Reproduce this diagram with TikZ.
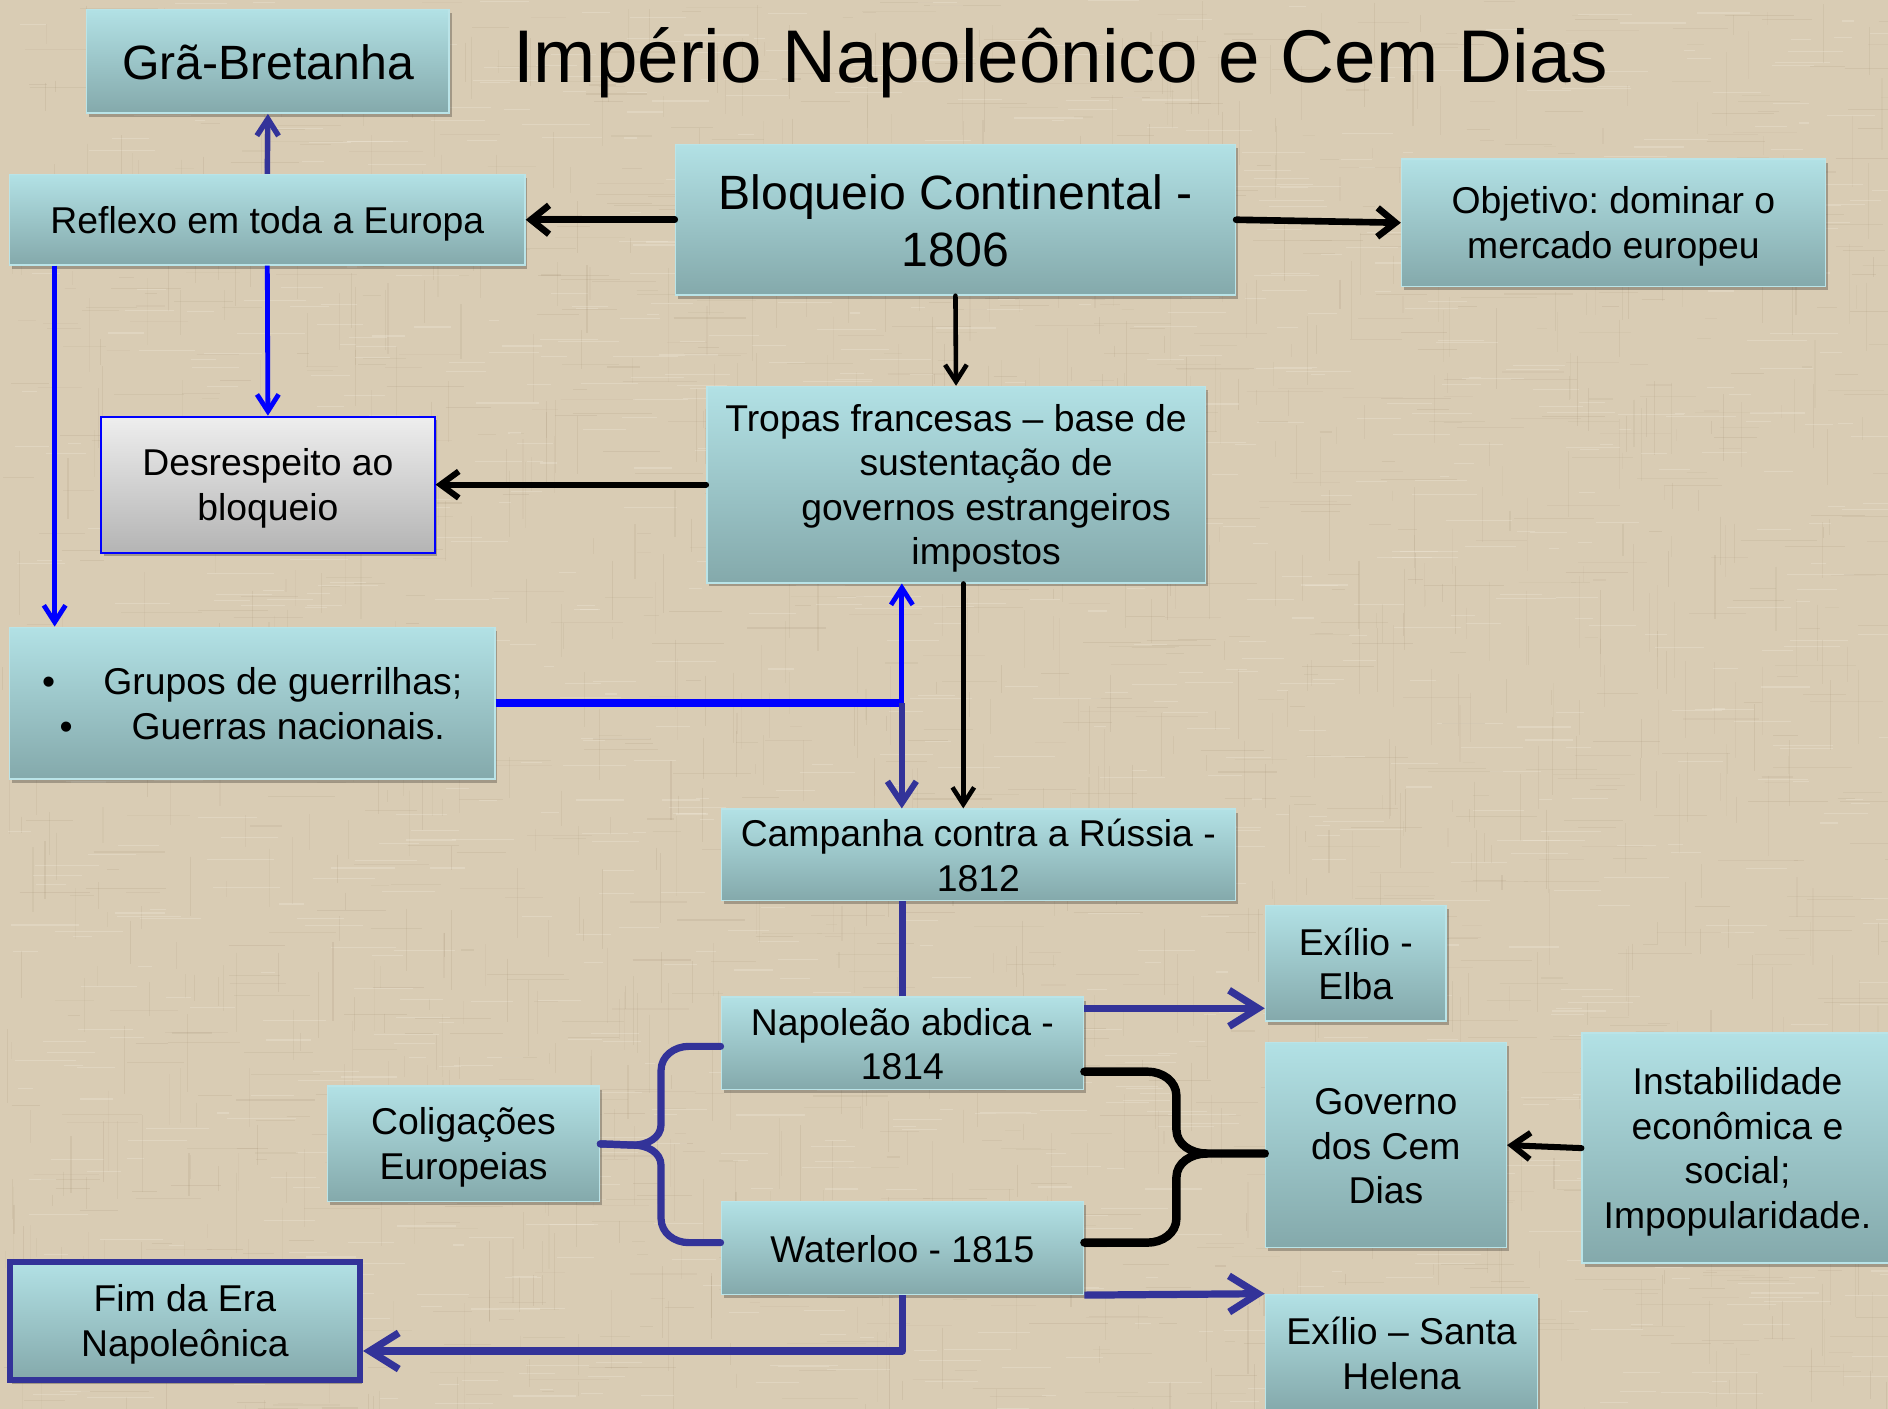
\documentclass[tikz,border=0pt]{standalone}
\usepackage{fontspec}
\setmainfont{Liberation Sans}
\usetikzlibrary{arrows.meta,calc,shadows}
\definecolor{bg}{RGB}{217,204,180}
\definecolor{bgdark}{RGB}{150,130,100}
\definecolor{bglight}{RGB}{242,235,220}
\definecolor{boxtop}{RGB}{178,225,229}
\definecolor{boxbot}{RGB}{132,169,171}
\definecolor{boxline}{RGB}{186,228,232}
\definecolor{dblue}{RGB}{51,51,153}
\definecolor{bblue}{RGB}{0,0,255}
\definecolor{graytop}{RGB}{238,238,238}
\definecolor{graybot}{RGB}{180,180,180}
\newcommand\bs{\rule[-0.17em]{0pt}{1.09em}}
\frenchspacing
\begin{document}
\begin{tikzpicture}[x=1pt,y=-1pt,
  box/.style={rectangle, inner sep=0pt, top color=boxtop, bottom color=boxbot,
    draw=boxline, line width=1.2pt, align=center,
    font=\fontsize{31}{37}\selectfont,
    drop shadow={shadow xshift=2pt,shadow yshift=-3pt,opacity=0.25,fill=black}},
  bigbox/.style={box, font=\fontsize{40}{47}\selectfont},
  graybox/.style={box, top color=graytop, bottom color=graybot, draw=bblue, line width=1.5pt},
  fimbox/.style={box, draw=dblue, line width=5pt},
  blk/.style={draw=black, line width=5.5pt, line cap=round, line join=round,
    -{Straight Barb[length=15pt,width=24pt]}},
  blkmid/.style={draw=black, line width=5pt, line cap=round, line join=round,
    -{Straight Barb[length=15pt,width=22pt]}},
  blkthin/.style={draw=black, line width=3.8pt, line cap=round, line join=round,
    -{Straight Barb[length=14pt,width=18pt]}},
  dbl/.style={draw=dblue, line width=6pt, line join=round,
    -{Straight Barb[length=24pt,width=30pt]}},
  dblthin/.style={draw=dblue, line width=4.5pt, line join=round,
    -{Straight Barb[length=14pt,width=18pt]}},
  dblmid/.style={draw=dblue, line width=5pt, line join=round,
    -{Straight Barb[length=18pt,width=24pt]}},
  bbl/.style={draw=bblue, line width=4pt, line join=round,
    -{Straight Barb[length=14pt,width=18pt]}},
  dline/.style={draw=dblue, line width=6pt},
  bthick/.style={draw=bblue, line width=7pt},
  bbrace/.style={draw=dblue, line width=6pt, line cap=round, line join=round},
  kbrace/.style={draw=black, line width=7pt, line cap=round, line join=round}
]
\useasboundingbox (0,0) rectangle (1568,1170);
\fill[bg] (0,0) rectangle (1568,1170);
% linen texture
\pgfmathsetseed{12}
\foreach \i in {1,...,1100}{
  \pgfmathsetmacro\xx{rnd*1568}\pgfmathsetmacro\yy{rnd*1170}
  \pgfmathsetmacro\ll{8+rnd*60}\pgfmathsetmacro\oo{0.05+0.10*rnd}
  \draw[bgdark, opacity=\oo, line width=0.9pt] (\xx,\yy) -- ++(\ll,0);
  \pgfmathsetmacro\xx{rnd*1568}\pgfmathsetmacro\yy{rnd*1170}
  \pgfmathsetmacro\ll{8+rnd*60}\pgfmathsetmacro\oo{0.05+0.10*rnd}
  \draw[bgdark, opacity=\oo, line width=0.9pt] (\xx,\yy) -- ++(0,\ll);
  \pgfmathsetmacro\xx{rnd*1568}\pgfmathsetmacro\yy{rnd*1170}
  \pgfmathsetmacro\ll{8+rnd*50}
  \draw[bglight, opacity=0.3, line width=0.9pt] (\xx,\yy) -- ++(\ll,0);
}

% title
\node[font=\fontsize{62}{70}\selectfont, inner sep=0pt] (tit) at (881,52) {Império Napoleônico e Cem Dias};

% boxes
\node[bigbox, minimum width=301pt, minimum height=86pt] (gra) at (222.5,51) {\bs Grã-Bretanha\bs};
\node[box, minimum width=428pt, minimum height=75pt] (ref) at (222,182.5) {\bs Reflexo em toda a Europa\bs};
\node[bigbox, minimum width=465pt, minimum height=125pt] (blo) at (793.5,182.5) {\bs Bloqueio Continental -\\1806\bs};
\node[box, minimum width=352pt, minimum height=106pt] (obj) at (1340,185) {\bs Objetivo: dominar o\\mercado europeu\bs};
\node[box, minimum width=414pt, minimum height=163pt] (tro) at (794,402.5)
  {\bs Tropas francesas – base de\\\hspace*{50pt}sustentação de\\\hspace*{50pt}governos estrangeiros\\\hspace*{50pt}impostos\bs};
\node[graybox, minimum width=277pt, minimum height=113pt] (des) at (222.5,402.5) {\bs Desrespeito ao\\bloqueio\bs};
\node[box, minimum width=403pt, minimum height=126pt] (grp) at (209.5,584)
  {\bs •\hspace{40pt}Grupos de guerrilhas;\\•\hspace{49pt}Guerras nacionais.\bs};
\node[box, minimum width=427pt, minimum height=76pt] (cam) at (812.5,710) {\bs Campanha contra a Rússia -\\1812\bs};
\node[box, minimum width=150pt, minimum height=96pt] (elb) at (1126,800) {\bs Exílio -\\Elba\bs};
\node[box, minimum width=301pt, minimum height=77pt] (nap) at (749.5,866.5) {\bs Napoleão abdica -\\1814\bs};
\node[box, minimum width=226pt, minimum height=96pt] (col) at (385,950) {\bs Coligações\\Europeias\bs};
\node[box, minimum width=200pt, minimum height=170pt] (gov) at (1151,951) {\bs Governo\\dos Cem\\Dias\bs};
\node[box, minimum width=258pt, minimum height=191pt] (ins) at (1443,953.5) {\bs Instabilidade\\econômica e\\social;\\Impopularidade.\bs};
\node[box, minimum width=301pt, minimum height=77pt] (wat) at (749.5,1036.5) {\bs Waterloo - 1815\bs};
\node[fimbox, minimum width=291pt, minimum height=98pt] (fim) at (153.5,1097) {\bs Fim da Era\\Napoleônica\bs};
\node[box, minimum width=226pt, minimum height=97pt] (hel) at (1164,1123.5) {\bs Exílio – Santa\\Helena\bs};

% black connectors
\draw[blk] (blo.west) -- (ref.east);
\draw[blk] (blo.east) -- (obj.west);
\draw[blkthin] (blo.south) -- (tro.north);
\draw[blkmid] (tro.west) -- (des.east);
\coordinate (tros) at ($(tro.south)+(6,0)$);
\draw[blkthin] (tros) -- (tros |- cam.north);
\draw[blkmid] (ins.west) -- (gov.east);

% blue connectors, top
\draw[dblthin] (ref.north) -- (gra.south);
\draw[bbl] (ref.south) -- (des.north);
\draw[bbl] ($(ref.south west)+(38,0)$) -- ($(grp.north west)+(38,0)$);
\coordinate (j) at (749,584);
\draw[bthick] (grp.east) -- (j);
\draw[bbl] (j) -- (j |- tro.south);
\draw[dblmid] (j) -- (j |- cam.north);
\draw[dline] (nap.north) -- (nap.north |- cam.south);

% lower connectors
\coordinate (napr) at ($(nap.north east)+(0,10)$);
\draw[dbl] (napr) -- (napr -| elb.west);
\draw[dbl] (wat.south east) -- (hel.north west);
\draw[dbl] (wat.south) |- ($(fim.east)+(0,25)$);

% left brace (blue)
\draw[bbrace] ($(nap.west)+(0,2.5)$) -- (572,869) to[out=180,in=90] (549,889) -- (549,934) to[out=-90,in=0] (526,951) -- (col.east);
\draw[bbrace] (col.east) -- (526,951) to[out=0,in=90] (549,968) -- (549,1012) to[out=-90,in=180] (572,1032) -- ($(wat.west)+(0,-4.5)$);

% right brace (black)
\draw[kbrace] ($(nap.east)+(0,23.5)$) -- (953,890) to[out=0,in=90] (977,910) -- (977,938) to[out=-90,in=180] (1002,958) -- ($(gov.west)+(0,7)$);
\draw[kbrace] (1002,958) to[out=180,in=90] (977,978) -- (977,1012) to[out=-90,in=0] (953,1032) -- ($(wat.east)+(0,-4.5)$);
\end{tikzpicture}
\end{document}
